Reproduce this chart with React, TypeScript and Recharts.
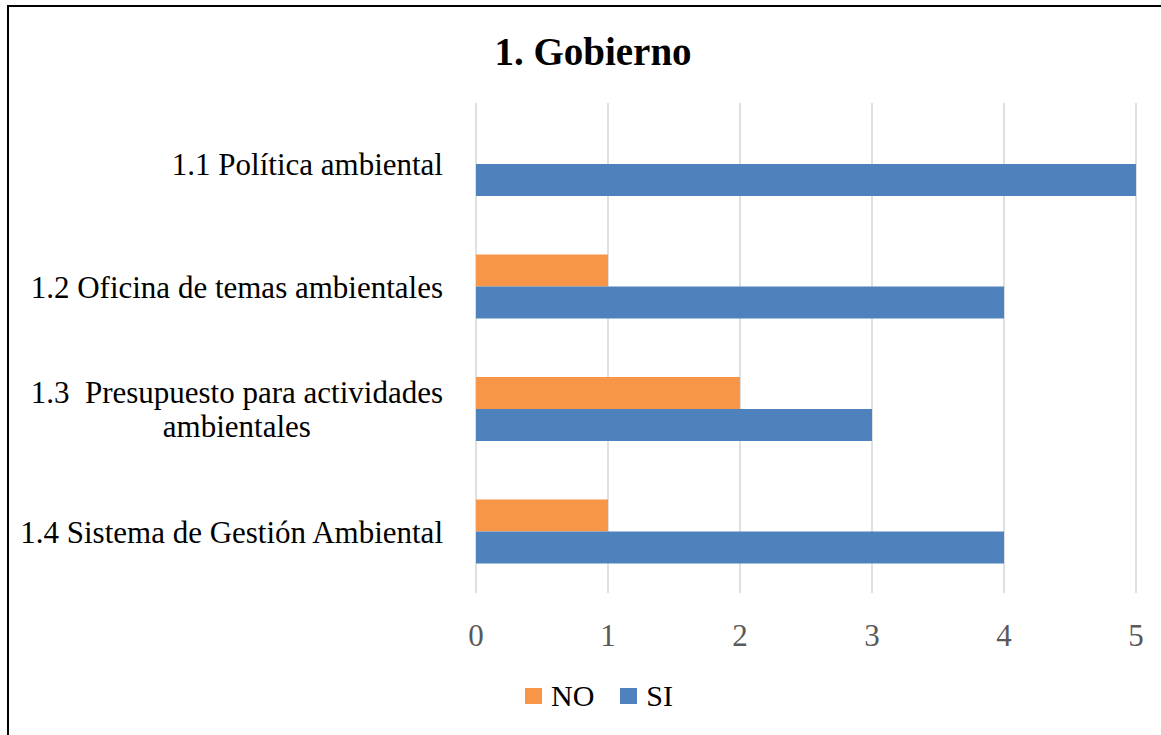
import React from 'react';
import { BarChart, Bar, XAxis, YAxis, CartesianGrid } from 'recharts';

const categories = [
  '1.1 Política ambiental',
  '1.2 Oficina de temas ambientales',
  '1.3  Presupuesto para actividades\nambientales',
  '1.4 Sistema de Gestión Ambiental',
];
const noValues = [0, 1, 2, 1];
const siValues = [5, 4, 3, 4];
const xTicks = [0, 1, 2, 3, 4, 5];
const seriesNames = ['NO', 'SI'];
const seriesColors = ['#F79646', '#4F81BD'];
const title = '1. Gobierno';

const data = categories.map((name, i) => ({ name, NO: noValues[i], SI: siValues[i] }));

const FONT = "'Liberation Serif', 'Times New Roman', serif";
const LABEL_SIZE = 31;

let ctx: CanvasRenderingContext2D | null = null;
function measure(text: string): number {
  if (!ctx) {
    const c = document.createElement('canvas');
    ctx = c.getContext('2d');
  }
  if (!ctx) return text.length * LABEL_SIZE * 0.45;
  ctx.font = `${LABEL_SIZE}px ${FONT}`;
  return ctx.measureText(text).width;
}

const YTick = (props: any) => {
  const { x, y, payload } = props;
  const lines: string[] = String(payload.value).split('\n');
  const right = x - 33;
  const lineH = 34;
  const startY = y - ((lines.length - 1) * lineH) / 2;
  const maxW = Math.max(...lines.map(measure));
  const multi = lines.length > 1;
  return (
    <g>
      {lines.map((l, i) => (
        <text
          key={i}
          x={multi ? right - maxW / 2 : right}
          y={startY + i * lineH}
          dy="0.35em"
          textAnchor={multi ? 'middle' : 'end'}
          fontFamily={FONT}
          fontSize={LABEL_SIZE}
          fill="#000000"
          style={{ whiteSpace: 'pre' }}
        >
          {l}
        </text>
      ))}
    </g>
  );
};

const XTick = (props: any) => {
  const { x, y, payload } = props;
  return (
    <text x={x} y={y + 53} textAnchor="middle" fontFamily={FONT} fontSize={31} fill="#595959">
      {payload.value}
    </text>
  );
};

export default function App() {
  return (
    <div
      style={{
        position: 'absolute',
        left: 0,
        top: 0,
        width: 1161,
        height: 735,
        overflow: 'hidden',
        background: '#ffffff',
      }}
    >
      <div
        style={{
          position: 'absolute',
          left: 7,
          top: 5,
          width: 1300,
          height: 900,
          border: '2px solid #000000',
          boxSizing: 'border-box',
        }}
      />
      <div
        style={{
          position: 'absolute',
          left: 0,
          top: 32,
          width: 1186,
          textAlign: 'center',
          fontFamily: FONT,
          fontWeight: 'bold',
          fontSize: 39,
          lineHeight: '39px',
          color: '#000000',
        }}
      >
        {title}
      </div>
      <div style={{ position: 'absolute', left: 0, top: 0 }}>
        <BarChart
          width={1161}
          height={735}
          data={data}
          layout="vertical"
          margin={{ top: 103, right: 25, bottom: 82, left: 0 }}
          barGap={0}
        >
          <CartesianGrid horizontal={false} vertical={true} stroke="#D9D9D9" strokeWidth={1.6} />
          <XAxis
            type="number"
            domain={[0, 5]}
            ticks={xTicks}
            axisLine={false}
            tickLine={false}
            tickSize={0}
            tickMargin={0}
            height={60}
            tick={<XTick />}
            interval={0}
          />
          <YAxis
            type="category"
            dataKey="name"
            width={476}
            axisLine={false}
            tickLine={false}
            tickSize={0}
            tickMargin={0}
            tick={<YTick />}
            interval={0}
          />
          <Bar dataKey="NO" fill={seriesColors[0]} barSize={32} isAnimationActive={false} />
          <Bar dataKey="SI" fill={seriesColors[1]} barSize={32} isAnimationActive={false} />
        </BarChart>
      </div>
      <div
        style={{
          position: 'absolute',
          left: 525,
          top: 681,
          display: 'flex',
          alignItems: 'center',
          fontFamily: FONT,
          fontSize: 30,
          lineHeight: '30px',
          color: '#000000',
        }}
      >
        {seriesNames.map((n, i) => (
          <div key={n} style={{ display: 'flex', alignItems: 'center', marginRight: i === 0 ? 26 : 0 }}>
            <div style={{ width: 17, height: 16, background: seriesColors[i], marginRight: 9 }} />
            <span>{n}</span>
          </div>
        ))}
      </div>
    </div>
  );
}
